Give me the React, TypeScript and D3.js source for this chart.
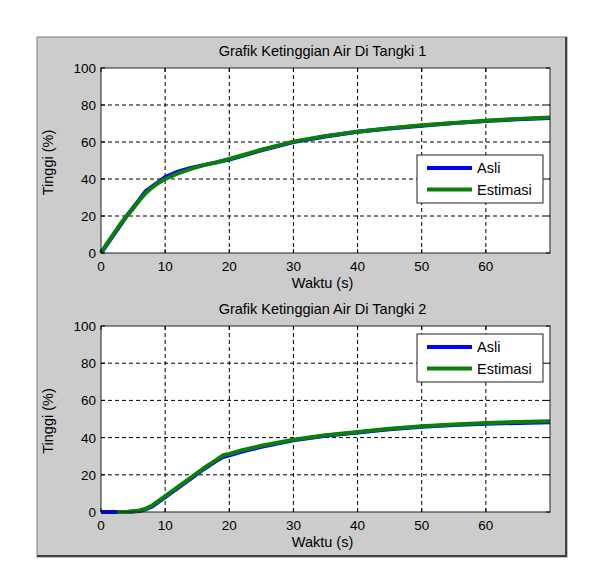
import { scaleLinear, line } from "d3";

// Tank 1 water level (%), measured vs. estimated
const time1 = [0, 1, 2, 3, 4, 5, 6, 7, 8, 9, 10, 12, 14, 16, 18, 20, 25, 30, 35, 40, 45, 50, 55, 60, 65, 70];
const asli1 = [0, 5, 10, 15, 20, 24.5, 29, 33.5, 36, 38.5, 41, 44, 46, 47.5, 49, 50.5, 55.5, 60, 63, 65.5, 67.3, 68.8, 70.2, 71.3, 72.3, 73];
const estimasi1 = [0, 5.5, 10.5, 15.5, 20, 24, 28.5, 32.5, 35.5, 38, 40, 43, 45.5, 47.5, 49, 50.8, 55.8, 60.2, 63.3, 65.6, 67.5, 69, 70.3, 71.5, 72.5, 73.3];

// Tank 2 water level (%); the estimate starts a little later
const timeAsli2 = [0, 2, 4, 6, 7, 8, 10, 12, 14, 16, 18, 19, 20, 22, 25, 30, 35, 40, 45, 50, 55, 60, 65, 70];
const asli2 = [0, 0, 0, 0.5, 1.5, 3, 8, 13, 18, 23, 27.5, 29.5, 30.5, 32.5, 35, 38.5, 41, 42.8, 44.5, 45.8, 46.8, 47.5, 47.9, 48.2];
const timeEst2 = [2.5, 4, 6, 7, 8, 10, 12, 14, 16, 18, 19, 20, 22, 25, 30, 35, 40, 45, 50, 55, 60, 65, 70];
const estimasi2 = [0, 0, 0.8, 1.8, 3.5, 8.5, 13.5, 18.5, 23.5, 28, 30.5, 31.2, 33.2, 35.6, 38.8, 41.3, 43, 44.8, 46.1, 47.1, 47.9, 48.4, 48.8];

const xTicks = [0, 10, 20, 30, 40, 50, 60];
const yTicks = [0, 20, 40, 60, 80, 100];
const seriesNames = ["Asli", "Estimasi"];
const seriesColors = ["#0000ff", "#0a7f0a"];

const FONT = "'Liberation Sans', Arial, sans-serif";

interface Series {
  t: number[];
  v: number[];
}

interface PanelProps {
  title: string;
  top: number;
  bottom: number;
  legendOffset: number;
  series: Series[];
}

const LEFT = 101;
const RIGHT = 550;

function Panel({ title, top, bottom, legendOffset, series }: PanelProps) {
  const x = scaleLinear().domain([0, 70]).range([LEFT, RIGHT]);
  const y = scaleLinear().domain([0, 100]).range([bottom, top]);

  const legendX = 417;
  const legendY = top + legendOffset;
  const legendW = 126;
  const legendH = 48;

  return (
    <g fontFamily={FONT} fontSize={14.5} fill="#000">
      <text x={(LEFT + RIGHT) / 2 - 3} y={top - 12} textAnchor="middle">
        {title}
      </text>
      <rect x={LEFT} y={top} width={RIGHT - LEFT} height={bottom - top} fill="#fff" />

      {/* dashed grid */}
      {xTicks.slice(1).map((t) => (
        <line key={`gx${t}`} x1={x(t)} x2={x(t)} y1={top} y2={bottom} stroke="#000" strokeDasharray="4,3" strokeWidth={1} />
      ))}
      {yTicks.slice(1, -1).map((v) => (
        <line key={`gy${v}`} x1={LEFT} x2={RIGHT} y1={y(v)} y2={y(v)} stroke="#000" strokeDasharray="4,3" strokeWidth={1} />
      ))}

      {/* curves */}
      {series.map((s, k) => {
        const gen = line<number>()
          .x((_, i) => x(s.t[i]))
          .y((d) => y(d));
        return (
          <path
            key={k}
            d={gen(s.v) ?? ""}
            fill="none"
            stroke={seriesColors[k]}
            strokeWidth={4}
            strokeLinejoin="round"
          />
        );
      })}

      {/* axes box and ticks */}
      <rect x={LEFT} y={top} width={RIGHT - LEFT} height={bottom - top} fill="none" stroke="#222" strokeWidth={1} />
      {xTicks.map((t) => (
        <g key={`tx${t}`}>
          <line x1={x(t)} x2={x(t)} y1={bottom} y2={bottom - 4} stroke="#000" />
          <line x1={x(t)} x2={x(t)} y1={top} y2={top + 4} stroke="#000" />
          <text x={x(t)} y={bottom + 18} textAnchor="middle" fontSize={13.5}>
            {t}
          </text>
        </g>
      ))}
      {yTicks.map((v) => (
        <g key={`ty${v}`}>
          <line x1={LEFT} x2={LEFT + 4} y1={y(v)} y2={y(v)} stroke="#000" />
          <line x1={RIGHT} x2={RIGHT - 4} y1={y(v)} y2={y(v)} stroke="#000" />
          <text x={LEFT - 5} y={y(v) + 5} textAnchor="end" fontSize={13.5}>
            {v}
          </text>
        </g>
      ))}

      <text x={(LEFT + RIGHT) / 2 - 3} y={bottom + 35} textAnchor="middle">
        Waktu (s)
      </text>
      <text
        transform={`translate(53,${(top + bottom) / 2 + 2}) rotate(-90)`}
        textAnchor="middle"
      >
        Tinggi (%)
      </text>

      {/* legend */}
      <rect x={legendX} y={legendY} width={legendW} height={legendH} fill="#fff" stroke="#222" strokeWidth={1} />
      {seriesNames.map((name, k) => {
        const ly = legendY + 13 + k * 21.5;
        return (
          <g key={name}>
            <line x1={legendX + 10} x2={legendX + 55} y1={ly} y2={ly} stroke={seriesColors[k]} strokeWidth={4} />
            <text x={legendX + 60} y={ly + 5}>
              {name}
            </text>
          </g>
        );
      })}
    </g>
  );
}

export default function App() {
  return (
    <svg
      width={600}
      height={585}
      style={{ position: "absolute", left: 0, top: 0, background: "#fff" }}
    >
      <rect x={37} y={37} width={530} height={520} fill="#cccccc" stroke="#808080" strokeWidth={1} />
      <line x1={566} x2={566} y1={37} y2={557} stroke="#404040" strokeWidth={2} />
      <line x1={37} x2={567} y1={556} y2={556} stroke="#404040" strokeWidth={2} />
      <Panel
        title="Grafik Ketinggian Air Di Tangki 1"
        top={68}
        bottom={253}
        legendOffset={87}
        series={[
          { t: time1, v: asli1 },
          { t: time1, v: estimasi1 },
        ]}
      />
      <Panel
        title="Grafik Ketinggian Air Di Tangki 2"
        top={326}
        bottom={512}
        legendOffset={8}
        series={[
          { t: timeAsli2, v: asli2 },
          { t: timeEst2, v: estimasi2 },
        ]}
      />
    </svg>
  );
}
